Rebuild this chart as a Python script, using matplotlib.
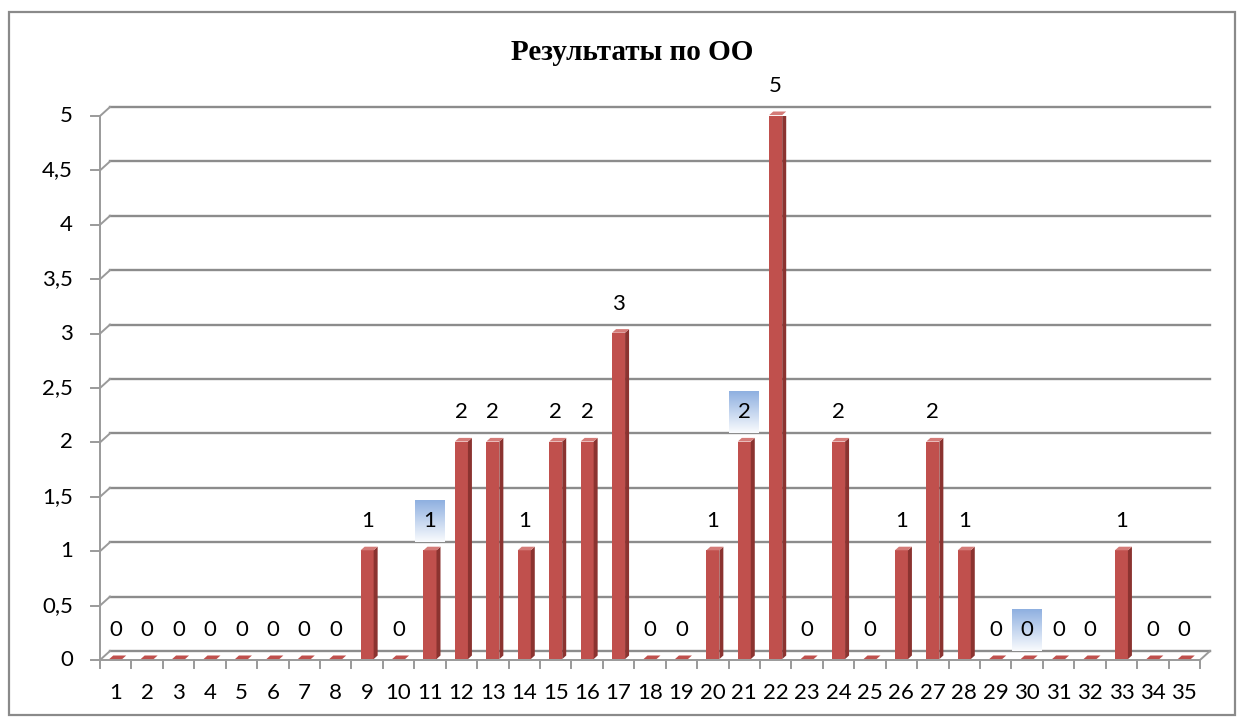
import numpy as np
import matplotlib
matplotlib.use('Agg')
import matplotlib.pyplot as plt
from matplotlib.patches import Polygon, Rectangle

# data
categories = [str(i) for i in range(1, 36)]
values = [0, 0, 0, 0, 0, 0, 0, 0, 1, 0,
          1, 2, 2, 1, 2, 2, 3, 0, 0, 1,
          2, 5, 0, 2, 0, 1, 2, 1, 0, 0,
          0, 0, 1, 0, 0]
yticks = [0, 0.5, 1, 1.5, 2, 2.5, 3, 3.5, 4, 4.5, 5]
ytick_labels = ['0', '0,5', '1', '1,5', '2', '2,5', '3', '3,5', '4', '4,5', '5']
highlighted = ['11', '21', '30']
title = 'Результаты по ОО'

W, H = 1244, 725
fig = plt.figure(figsize=(W / 100, H / 100), dpi=100)
fig.patch.set_facecolor('white')

# outer frame
fig.add_artist(Rectangle((9 / W, 10 / H), 1226 / W, 703 / H, transform=fig.transFigure,
                         fill=False, edgecolor='#8a8a8a', linewidth=1.6))

left, right, bottom, top = 100, 1200, 660, 116
ax = fig.add_axes([left / W, (H - bottom) / H, (right - left) / W, (bottom - top) / H])
n = len(categories)
ax.set_xlim(0.5, n + 0.5)
ax.set_ylim(0, 5)
ax.axis('off')

px_x = n / (right - left)
px_y = 5.0 / (bottom - top)
dx = 10 * px_x
dy = 9 * px_y
grid_c = '#8c8c8c'
axis_c = '#9a9a9a'
lab_font = ['Lato', 'DejaVu Sans']
fs = 16

x0, x1 = 0.5, n + 0.5
# back wall gridlines and left diagonals
for v, lab in zip(yticks, ytick_labels):
    ax.plot([x0 + dx, x1 + dx], [v + dy, v + dy], color=grid_c, lw=1.7, clip_on=False, zorder=1)
    ax.plot([x0, x0 + dx], [v, v + dy], color=axis_c, lw=1.4, clip_on=False, zorder=1)
    ax.plot([x0 - 9 * px_x, x0], [v, v], color=axis_c, lw=1.4, clip_on=False, zorder=1)
    ax.text(x0 - 27 * px_x, v, lab, ha='right', va='center', fontsize=fs,
            family=lab_font, color='black', clip_on=False)
# vertical axis
ax.plot([x0, x0], [0, 5], color=axis_c, lw=1.4, clip_on=False, zorder=1)
# floor front edge and right diagonal
ax.plot([x0, x1], [0, 0], color=axis_c, lw=1.4, clip_on=False, zorder=1)
ax.plot([x1, x1 + dx], [0, dy], color=axis_c, lw=1.4, clip_on=False, zorder=1)
# x ticks
for b in np.arange(0.5, n + 1, 1):
    ax.plot([b, b], [0, -8 * px_y], color=axis_c, lw=1.4, clip_on=False, zorder=1)
for i, c in enumerate(categories):
    ax.text(i + 1, -33 * px_y, c, ha='center', va='center', fontsize=fs,
            family=lab_font, clip_on=False)

# bars
bw = 13 * px_x
front_c = '#c0504d'
side_c = '#8b3330'
top_c = '#d47b78'
depx = dx * 0.4
depy = dy * 0.4
for i, v in enumerate(values):
    xc = i + 1
    xl = xc - bw / 2
    xr = xc + bw / 2
    yb = dy * 0.1
    yt = yb + v
    if v > 0:
        ax.add_patch(Polygon([[xl, yb], [xr, yb], [xr, yt], [xl, yt]], closed=True,
                             facecolor=front_c, edgecolor='none', zorder=3))
        ax.add_patch(Polygon([[xr, yb], [xr + depx, yb + depy], [xr + depx, yt + depy], [xr, yt]],
                             closed=True, facecolor=side_c, edgecolor='none', zorder=3))
    ax.add_patch(Polygon([[xl, yt], [xr, yt], [xr + depx, yt + depy], [xl + depx, yt + depy]],
                         closed=True, facecolor=top_c if v > 0 else front_c,
                         edgecolor='none', zorder=3, clip_on=False))

# gradient highlight boxes
grad = np.linspace(0, 1, 64)
top_rgb = [0.56, 0.69, 0.88]
img = np.zeros((64, 1, 3))
for k in range(3):
    img[:, 0, k] = top_rgb[k] + (1 - top_rgb[k]) * grad * 0.95
for i, c in enumerate(categories):
    if c in highlighted:
        v = values[i]
        ax.imshow(img, extent=[i + 1 - 15 * px_x, i + 1 + 15 * px_x, v + 0.085, v + 0.47],
                  aspect='auto', zorder=2, clip_on=False, interpolation='bilinear')
ax.set_xlim(0.5, n + 0.5)
ax.set_ylim(0, 5)

# data labels
for i, v in enumerate(values):
    ax.text(i + 1, v + 0.275, str(v), ha='center', va='center', fontsize=fs,
            family=lab_font, zorder=4, clip_on=False)

fig.text(632 / W, 1 - 52 / H, title, ha='center', va='center', fontsize=21,
         fontweight='bold', family=['Liberation Serif', 'DejaVu Serif'])

plt.savefig('out.png', dpi=100)
plt.close()
